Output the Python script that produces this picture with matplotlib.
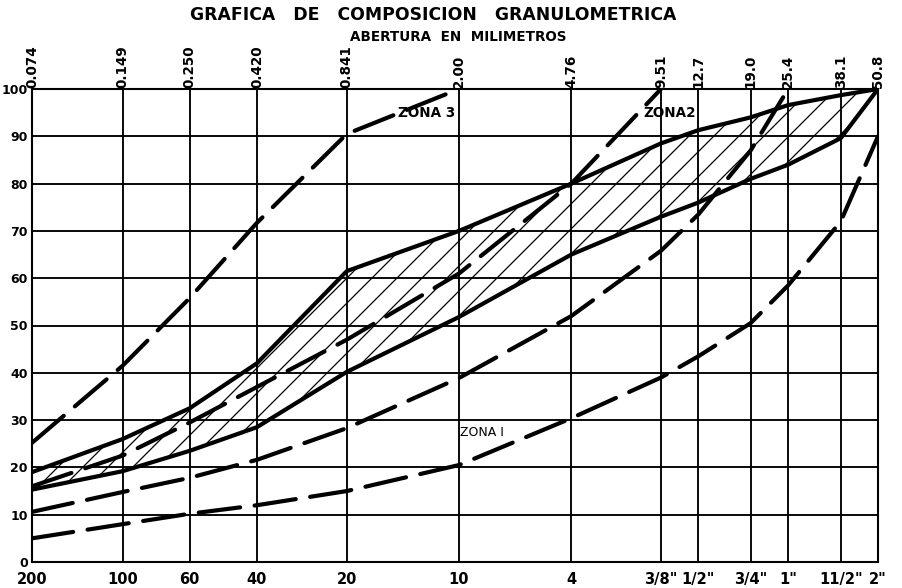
import numpy as np
import matplotlib
matplotlib.use("Agg")
import matplotlib.pyplot as plt
from matplotlib.ticker import NullLocator

# ---------------- data ----------------
sieve_mm = [0.074, 0.149, 0.250, 0.420, 0.841, 2.00, 4.76, 9.51, 12.7, 19.0, 25.4, 38.1, 50.8]
top_labels = ["0.074", "0.149", "0.250", "0.420", "0.841", "2.00", "4.76",
              "9.51", "12.7", "19.0", "25.4", "38.1", "50.8"]
bottom_labels = ["200", "100", "60", "40", "20", "10", "4",
                 '3/8"', '1/2"', '3/4"', '1"', '11/2"', '2"']
y_ticks = [0, 10, 20, 30, 40, 50, 60, 70, 80, 90, 100]

# hatched band (specification)
band_upper = [19, 26, 32.5, 42, 61.5, 70, 80, 88.5, 91.3, 94, 96.6, 98.7, 100]
band_lower = [15.3, 19.2, 23.5, 28.5, 40.2, 51.8, 65, 73, 76, 81, 84, 89.6, 100]

# zone boundaries (dashed)
zona1_lower = [5, 8, 10.2, 12, 15, 20.5, 30.4, 39, 43.5, 50.5, 58.5, 72, 90]
zona1_upper = [10.6, 14.8, 17.8, 21.6, 28.3, 38.9, 52, 65.8, 73.5, 87, 100]
zona2_upper = [16, 22.5, 29.5, 37, 47, 61, 80, 100]
zona3_upper = [25.2, 41.5, 55.8, 71.7, 90.5, 100]

# ---------------- figure ----------------
DPI = 150
plt.rcParams['hatch.linewidth'] = 0.6
fig = plt.figure(figsize=(903 / DPI, 588 / DPI), dpi=DPI)
ax = fig.add_axes([32 / 903, 1 - 562 / 588, (878 - 32) / 903, (562 - 89) / 588])

ax.set_xscale('log')
ax.set_xlim(sieve_mm[0], sieve_mm[-1])
ax.set_ylim(0, 100)
ax.set_xticks(sieve_mm)
ax.xaxis.set_minor_locator(NullLocator())
ax.set_xticklabels(bottom_labels)
ax.set_yticks(y_ticks)
ax.set_yticklabels([str(v) for v in y_ticks])
ax.tick_params(length=0)
ax.tick_params(axis='x', pad=5, labelsize=7)
ax.tick_params(axis='y', pad=2, labelsize=6)
for lab in ax.get_xticklabels() + ax.get_yticklabels():
    lab.set_fontweight('bold')

ax.grid(True, color='black', linewidth=0.9)
for sp in ax.spines.values():
    sp.set_linewidth(1.0)
    sp.set_color('black')

# top labels (mm)
for xv, lab in zip(sieve_mm, top_labels):
    ax.text(xv, 1.003, lab, transform=ax.get_xaxis_transform(), rotation=90,
            ha='center', va='bottom', fontsize=6.5, fontweight='bold')

# band
ax.fill_between(sieve_mm, band_lower, band_upper, facecolor='none',
                edgecolor='black', hatch='//', linewidth=0)
ax.plot(sieve_mm, band_upper, color='black', lw=2.0, solid_capstyle='round')
ax.plot(sieve_mm, band_lower, color='black', lw=2.0, solid_capstyle='round')

dash = dict(color='black', lw=2.0, dashes=(10, 3.5), dash_capstyle='round')
ax.plot(sieve_mm[:len(zona1_lower)], zona1_lower, **dash)
ax.plot(sieve_mm[:len(zona1_upper)], zona1_upper, **dash)
ax.plot(sieve_mm[:len(zona2_upper)], zona2_upper, **dash)
ax.plot(sieve_mm[:len(zona3_upper)], zona3_upper, **dash)

ax.text(1.25, 95, "ZONA 3", fontsize=6.5, fontweight='bold', va='center', ha='left')
ax.text(8.3, 95, "ZONA2", fontsize=6.5, fontweight='bold', va='center', ha='left')
ax.text(2.01, 27.3, "ZONA I", fontsize=6, va='center', ha='left')

fig.text(433 / 903, 1 - 15 / 588, "GRAFICA   DE   COMPOSICION   GRANULOMETRICA",
         ha='center', va='center', fontsize=8.3, fontweight='bold')
fig.text(458 / 903, 1 - 37 / 588, "ABERTURA  EN  MILIMETROS",
         ha='center', va='center', fontsize=6.5, fontweight='bold')

fig.savefig("out.png", dpi=DPI, facecolor='white')
